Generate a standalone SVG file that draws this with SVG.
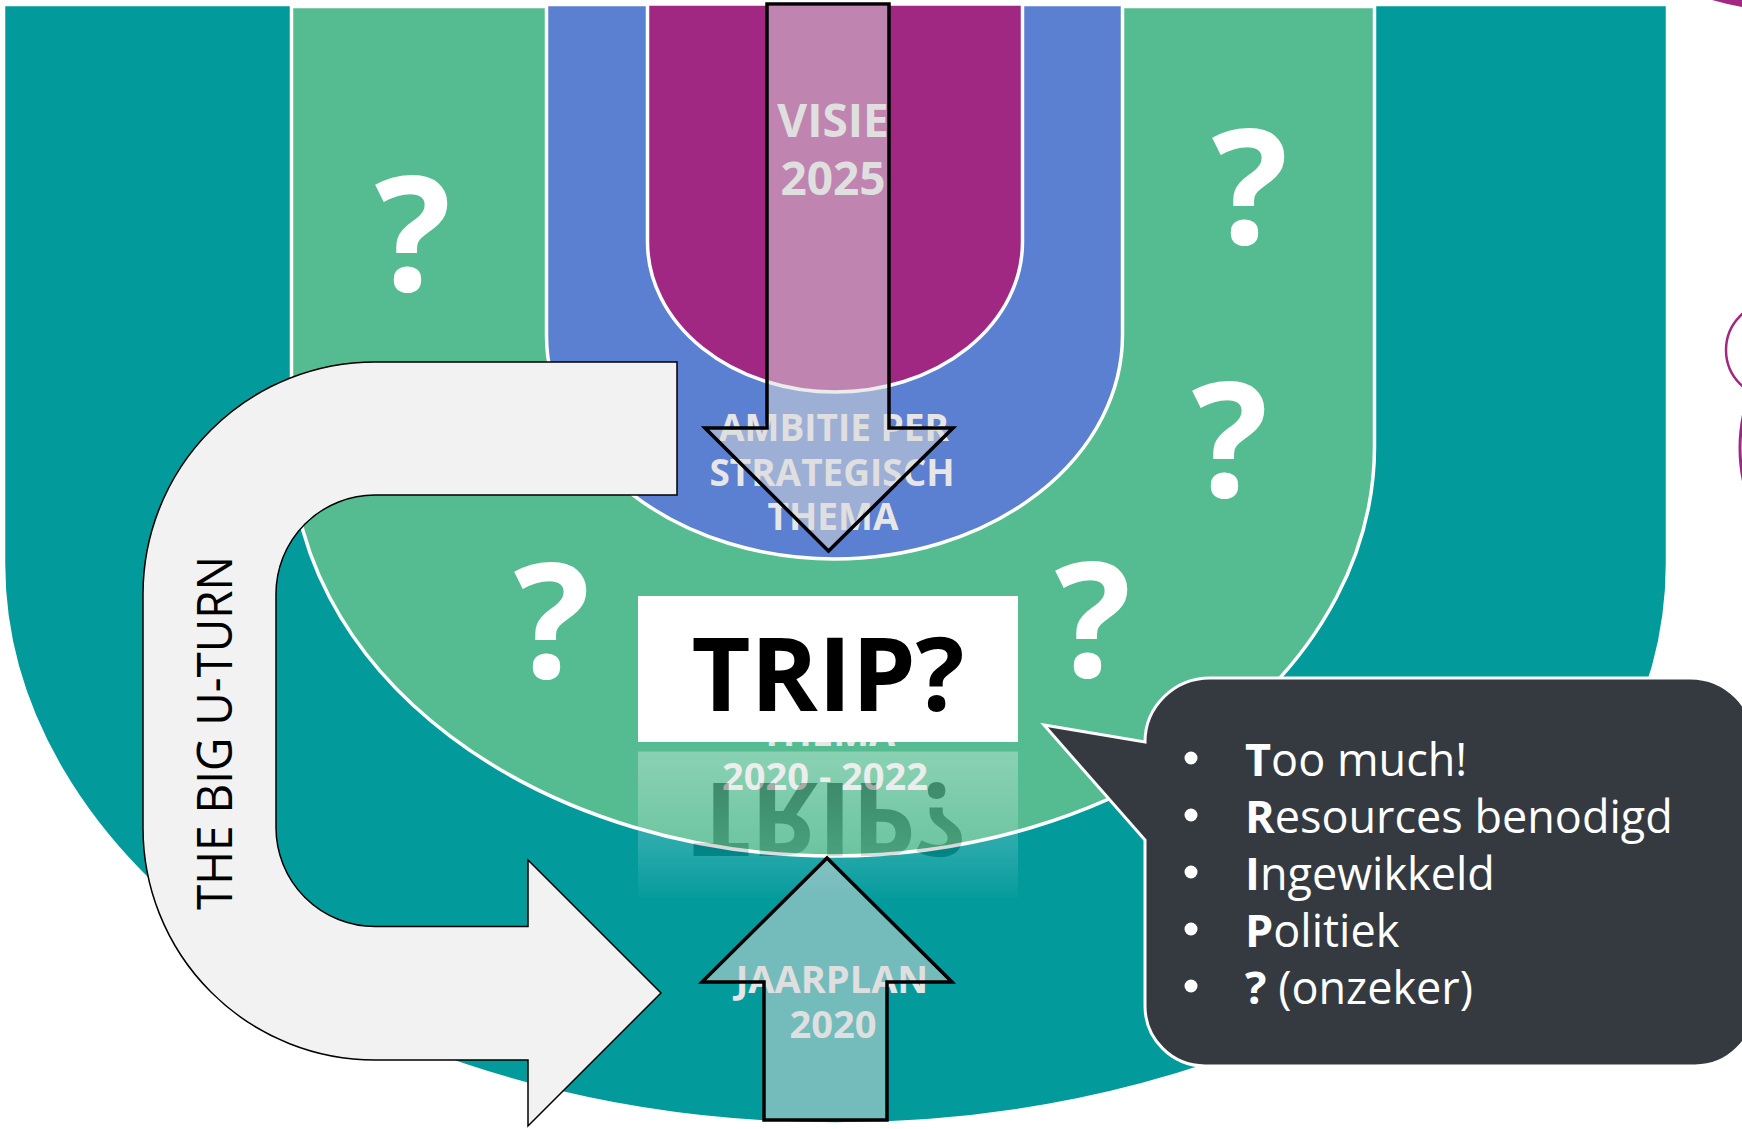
<svg xmlns="http://www.w3.org/2000/svg" width="1742" height="1129" viewBox="0 0 1742 1129">
  <style>
    .band { stroke: #FFFFFF; stroke-width: 3.5; }
    .lbl { font-family: 'Open Sans', 'Noto Sans', sans-serif; font-weight: bold; fill: #E7E6E6; text-anchor: middle; }
    .q { font-family: 'Open Sans', 'Noto Sans', sans-serif; font-weight: bold; fill: #FFFFFF; font-size: 160px; text-anchor: middle; }
    .arrow { fill: #D9D9D9; fill-opacity: 0.53; stroke: #000000; stroke-width: 3.5; stroke-linejoin: miter; }
    .bul { font-family: 'Open Sans', 'Noto Sans', sans-serif; font-size: 45px; fill: #FFFFFF; }
    .b { font-weight: bold; }
  </style>
  <defs>
    <linearGradient id="reflGrad" gradientUnits="userSpaceOnUse" x1="0" y1="752" x2="0" y2="905">
      <stop offset="0" stop-color="#FFFFFF" stop-opacity="0.32"/>
      <stop offset="0.6" stop-color="#FFFFFF" stop-opacity="0.16"/>
      <stop offset="1" stop-color="#FFFFFF" stop-opacity="0"/>
    </linearGradient>
    <mask id="reflMask" maskUnits="userSpaceOnUse" x="600" y="740" width="460" height="240">
      <rect x="600" y="740" width="460" height="240" fill="url(#reflGrad)"/>
    </mask>
  </defs>

  <!-- bands -->
  <g id="band-jaarplan">
    <path class="band" fill="#039A9C" d="M3.5,4.5 L3.5,564 A832,560 0 0 0 1667.5,564 L1667.5,4.5 Z"/>
  </g>
  <g id="band-thema">
    <path class="band" fill="#54BC90" d="M291.5,6.5 L291.5,446.5 A541.5,409.5 0 0 0 1374.5,446.5 L1374.5,6.5 Z"/>
  </g>
  <g id="band-ambitie">
    <path class="band" fill="#5B7FD1" d="M546.5,4.5 L546.5,335 A288,224 0 0 0 1122.5,335 L1122.5,4.5 Z"/>
  </g>
  <g id="band-visie">
    <path class="band" fill="#A12882" d="M647.5,4 L647.5,242 A187.5,150 0 0 0 1022.5,242 L1022.5,4 Z"/>
  </g>

  <!-- band labels -->
  <g id="labels">
    <text class="lbl" x="833" y="137" font-size="46">VISIE</text>
    <text class="lbl" x="833" y="195" font-size="46">2025</text>
    <text class="lbl" x="834" y="441" font-size="37">AMBITIE PER</text>
    <text class="lbl" x="832" y="486" font-size="37">STRATEGISCH</text>
    <text class="lbl" x="833" y="530" font-size="37">THEMA</text>
    <text class="lbl" x="828" y="746" font-size="38">THEMA</text>
    <text class="lbl" x="825" y="790" font-size="38">2020 - 2022</text>
    <text class="lbl" x="832" y="993" font-size="38">JAARPLAN</text>
    <text class="lbl" x="833" y="1038" font-size="38">2020</text>
  </g>

  <!-- question marks -->
  <g id="questions">
    <text class="q" x="413" y="291">?</text>
    <text class="q" x="1250" y="244">?</text>
    <text class="q" x="1230" y="497">?</text>
    <text class="q" x="552" y="678">?</text>
    <text class="q" x="1093" y="677">?</text>
  </g>

  <!-- TRIP box -->
  <g id="trip">
    <rect x="638" y="596" width="380" height="146" fill="#FFFFFF"/>
    <text x="828" y="711" font-family="'Open Sans', 'Noto Sans', sans-serif" font-weight="bold" font-size="102" fill="#000000" text-anchor="middle">TRIP?</text>
  </g>
  <g id="trip-reflection" mask="url(#reflMask)">
    <g transform="translate(0,1493.5) scale(1,-1)">
      <rect x="638" y="596" width="380" height="146" fill="#FFFFFF"/>
      <text x="828" y="711" font-family="'Open Sans', 'Noto Sans', sans-serif" font-weight="bold" font-size="102" fill="#000000" text-anchor="middle">TRIP?</text>
    </g>
  </g>

  <!-- connectors -->
  <g id="connectors">
    <path class="arrow" d="M767,4 L889,4 L889,428 L953,428 L828.5,551 L705,428 L767,428 Z"/>
    <path class="arrow" d="M827,858 L952,982 L887,982 L887,1120 L764,1120 L764,982 L702,982 Z"/>
  </g>

  <!-- U-turn -->
  <g id="u-turn">
    <path fill="#F2F2F2" stroke="#000000" stroke-width="1.5" d="M677,362 L375,362 A232,232 0 0 0 143,594 L143,828 A232,232 0 0 0 375,1060 L528,1060 L528,1126 L661,993 L528,860 L528,926.5 L375,926.5 A99,99 0 0 1 276,827.5 L276,594 A99,99 0 0 1 375,495 L677,495 Z"/>
    <text transform="translate(232,910) rotate(-90)" x="0" y="0" font-family="'Open Sans', 'Noto Sans', sans-serif" font-size="49" fill="#000000" textLength="354" lengthAdjust="spacingAndGlyphs">THE BIG U-TURN</text>
  </g>

  <!-- speech bubble -->
  <g id="bubble">
    <path fill="#343A40" stroke="#FFFFFF" stroke-width="3" d="M1210,678 L1690,678 A65,65 0 0 1 1755,743 L1755,1006 A60,60 0 0 1 1695,1066 L1205,1066 A60,60 0 0 1 1145,1006 L1145,840 L1044,725 L1145,742 A65,64 0 0 1 1210,678 Z"/>
    <circle cx="1191" cy="758" r="6.5" fill="#FFFFFF"/>
    <circle cx="1191" cy="815" r="6.5" fill="#FFFFFF"/>
    <circle cx="1191" cy="872" r="6.5" fill="#FFFFFF"/>
    <circle cx="1191" cy="929" r="6.5" fill="#FFFFFF"/>
    <circle cx="1191" cy="986" r="6.5" fill="#FFFFFF"/>
    <text class="bul" x="1245" y="776"><tspan class="b">T</tspan>oo much!</text>
    <text class="bul" x="1245" y="833"><tspan class="b">R</tspan>esources benodigd</text>
    <text class="bul" x="1245" y="890"><tspan class="b">I</tspan>ngewikkeld</text>
    <text class="bul" x="1245" y="947"><tspan class="b">P</tspan>olitiek</text>
    <text class="bul" x="1245" y="1004"><tspan class="b">?</tspan> (onzeker)</text>
  </g>

  <!-- partial shapes at right edge -->
  <g id="edge-shapes" fill="none" stroke="#A12882">
    <path fill="#A12882" stroke="none" d="M1712,0 L1742,0 L1742,7 Q1726,4 1712,0 Z"/>
    <circle cx="1774" cy="350" r="48" stroke-width="2.5"/>
    <circle cx="1900" cy="448" r="160" stroke-width="3"/>
  </g>
</svg>
